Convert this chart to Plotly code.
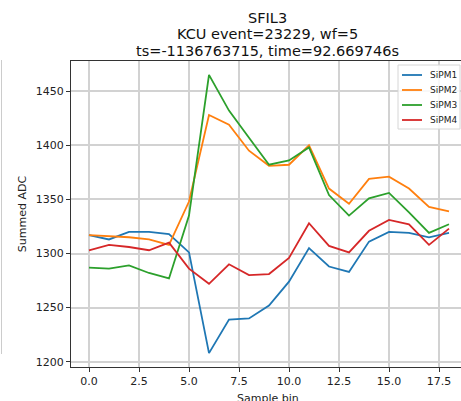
import plotly.graph_objects as go

# ---- data ----
sample_bins = list(range(19))
series_names = ["SiPM1", "SiPM2", "SiPM3", "SiPM4"]
sipm1 = [1317, 1313, 1320, 1320, 1318, 1301, 1208, 1239, 1240, 1252, 1274, 1305, 1288, 1283, 1311, 1320, 1319, 1315, 1319]
sipm2 = [1317, 1316, 1315, 1313, 1308, 1348, 1428, 1419, 1395, 1381, 1382, 1400, 1360, 1346, 1369, 1371, 1360, 1343, 1339]
sipm3 = [1287, 1286, 1289, 1282, 1277, 1335, 1465, 1432, 1407, 1382, 1386, 1398, 1354, 1335, 1351, 1356, 1338, 1319, 1327]
sipm4 = [1303, 1308, 1306, 1303, 1310, 1286, 1272, 1290, 1280, 1281, 1296, 1328, 1307, 1301, 1321, 1331, 1327, 1308, 1323]
title_lines = ["SFIL3", "KCU event=23229, wf=5", "ts=-1136763715, time=92.669746s"]
x_title = "Sample bin"
y_title = "Summed ADC"

colors = ["#1f77b4", "#ff7f0e", "#2ca02c", "#d62728"]
all_series = [sipm1, sipm2, sipm3, sipm4]

W, H = 461, 401
ML, MR, MT, MB = 71, 0, 61, 34
PW, PH = W - ML - MR, H - MT - MB
FONT = "DejaVu Sans"

fig = go.Figure()
for name, vals, c in zip(series_names, all_series, colors):
    fig.add_trace(go.Scatter(x=sample_bins, y=vals, mode="lines", name=name,
                             line=dict(color=c, width=1.8), showlegend=False))

lo = min(min(s) for s in all_series)
hi = max(max(s) for s in all_series)
pad = 0.05 * (hi - lo)


def px_x(px):
    return (px - ML) / PW


def px_y(py):
    return (H - MB - py) / PH


shapes = []
annotations = []

# custom legend box (matplotlib-like)
shapes.append(dict(type="rect", xref="paper", yref="paper",
                   x0=px_x(398), x1=px_x(460), y0=px_y(129), y1=px_y(65),
                   fillcolor="rgba(255,255,255,0.85)", line=dict(color="#d6d6d6", width=1),
                   layer="above"))
for i, (name, c) in enumerate(zip(series_names, colors)):
    yy = px_y(75 + 15 * i)
    shapes.append(dict(type="line", xref="paper", yref="paper",
                       x0=px_x(402), x1=px_x(422), y0=yy, y1=yy,
                       line=dict(color=c, width=1.8), layer="above"))
    annotations.append(dict(text=name, xref="paper", yref="paper", x=px_x(428), y=yy,
                            xanchor="left", yanchor="middle", showarrow=False,
                            font=dict(family=FONT, size=9, color="#222")))

# faint border line at far left (part of the screenshot)
shapes.append(dict(type="line", xref="paper", yref="paper",
                   x0=px_x(1.5), x1=px_x(1.5), y0=px_y(60), y1=px_y(354),
                   line=dict(color="#cccccc", width=1), layer="above"))

# title lines
for i, t in enumerate(title_lines):
    annotations.append(dict(text=t, xref="paper", yref="paper", x=px_x(267),
                            y=px_y(17.5 + 16.7 * i), xanchor="center", yanchor="middle",
                            showarrow=False, font=dict(family=FONT, size=14.5, color="#111")))

# x-axis title (partly cut by the bottom edge, as in the reference)
annotations.append(dict(text=x_title, xref="paper", yref="paper", x=px_x(268),
                        y=px_y(398), xanchor="center", yanchor="middle", showarrow=False,
                        font=dict(family=FONT, size=11, color="#222")))

fig.update_layout(
    width=W, height=H,
    margin=dict(l=ML, r=MR, t=MT, b=MB, autoexpand=False),
    paper_bgcolor="white", plot_bgcolor="white",
    font=dict(family=FONT, size=11, color="#222"),
    shapes=shapes, annotations=annotations,
    showlegend=False,
)
fig.update_xaxes(range=[-0.9, 18.6], tick0=0, dtick=2.5, tickformat=".1f",
                 showgrid=True, gridcolor="#d2d2d2", gridwidth=1.5,
                 showline=True, linecolor="#333", linewidth=1, mirror=True,
                 ticks="outside", ticklen=4, tickcolor="#333",
                 zeroline=False, automargin=False)
fig.update_yaxes(range=[lo - pad, hi + pad], tick0=1200, dtick=50,
                 showgrid=True, gridcolor="#d2d2d2", gridwidth=1.5,
                 showline=True, linecolor="#333", linewidth=1,
                 ticks="outside", ticklen=4, tickcolor="#333",
                 zeroline=False, automargin=False,
                 title=dict(text=y_title, font=dict(family=FONT, size=11), standoff=6))

fig.write_html("out.html", config={"displayModeBar": False},
               post_script="document.body.style.margin='0';document.body.style.overflow='hidden';")
